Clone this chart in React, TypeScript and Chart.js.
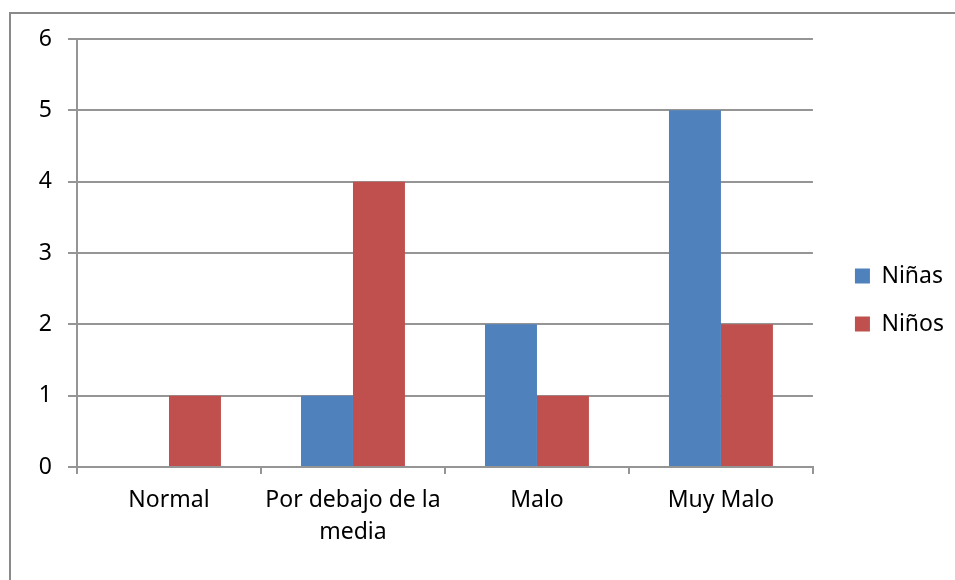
import React, { useEffect, useRef } from 'react';
import { Chart, registerables } from 'chart.js';

Chart.register(...registerables);

const categories: (string | string[])[] = ['Normal', ['Por debajo de la', 'media'], 'Malo', 'Muy Malo'];
const seriesNames = ['Niñas', 'Niños'];
const ninasValues = [0, 1, 2, 5];
const ninosValues = [1, 4, 1, 2];
const yMin = 0;
const yMax = 6;
const yStep = 1;

const BLUE = '#4F81BD';
const RED = '#C0504D';
const GRID = '#959595';
const FRAME = '#8a8a8a';
const FONT = { family: "'Noto Sans', sans-serif", size: 23 };

const framePlugin = {
  id: 'outerFrame',
  beforeDraw(chart: any) {
    const ctx = chart.ctx;
    ctx.save();
    ctx.strokeStyle = FRAME;
    ctx.lineWidth = 2;
    ctx.beginPath();
    ctx.moveTo(10, chart.height);
    ctx.lineTo(10, 13);
    ctx.lineTo(chart.width, 13);
    ctx.stroke();
    ctx.restore();
  },
};

export default function App() {
  const ref = useRef<HTMLCanvasElement | null>(null);

  useEffect(() => {
    if (!ref.current) return;
    const chart = new Chart(ref.current, {
      type: 'bar',
      data: {
        labels: categories,
        datasets: [
          {
            label: seriesNames[0],
            data: ninasValues,
            backgroundColor: BLUE,
            borderColor: BLUE,
            borderWidth: 0,
            categoryPercentage: 0.565,
            barPercentage: 1,
          },
          {
            label: seriesNames[1],
            data: ninosValues,
            backgroundColor: RED,
            borderColor: RED,
            borderWidth: 0,
            categoryPercentage: 0.565,
            barPercentage: 1,
          },
        ],
      },
      plugins: [framePlugin],
      options: {
        responsive: false,
        animation: false,
        layout: { padding: { left: 0, top: 39, right: 1, bottom: 19 } },
        plugins: {
          legend: {
            position: 'right',
            labels: {
              boxWidth: 15,
              boxHeight: 15,
              padding: 25,
              color: '#000',
              font: FONT,
            },
          },
          tooltip: { enabled: false },
        },
        scales: {
          x: {
            grid: {
              display: true,
              drawOnChartArea: false,
              drawTicks: true,
              tickLength: 7,
              color: GRID,
              lineWidth: 2,
              offset: true,
            },
            border: { display: true, color: GRID, width: 2 },
            ticks: {
              color: '#000',
              font: { ...FONT, lineHeight: 1.4 },
              padding: 10,
              maxRotation: 0,
              autoSkip: false,
            },
            afterFit: (s: any) => {
              s.height = 94;
            },
          },
          y: {
            min: yMin,
            max: yMax,
            ticks: { stepSize: yStep, color: '#000', font: FONT, padding: 16 },
            grid: { color: GRID, lineWidth: 2, tickLength: 9 },
            border: { display: true, color: GRID, width: 2 },
            afterFit: (s: any) => {
              s.width = 77;
            },
          },
          yR: {
            type: 'linear',
            position: 'right',
            display: true,
            grid: { display: false, drawTicks: false },
            border: { display: false },
            ticks: { display: false },
            afterFit: (s: any) => {
              s.width = 17;
            },
          },
        },
      } as any,
    });
    return () => chart.destroy();
  }, []);

  return (
    <div
      style={{
        position: 'fixed',
        left: 0,
        top: 0,
        width: 955,
        height: 580,
        overflow: 'hidden',
        background: '#fff',
      }}
    >
      <canvas
        ref={ref}
        width={955}
        height={580}
        style={{ position: 'absolute', left: 0, top: 0, width: 955, height: 580 }}
      />
    </div>
  );
}
